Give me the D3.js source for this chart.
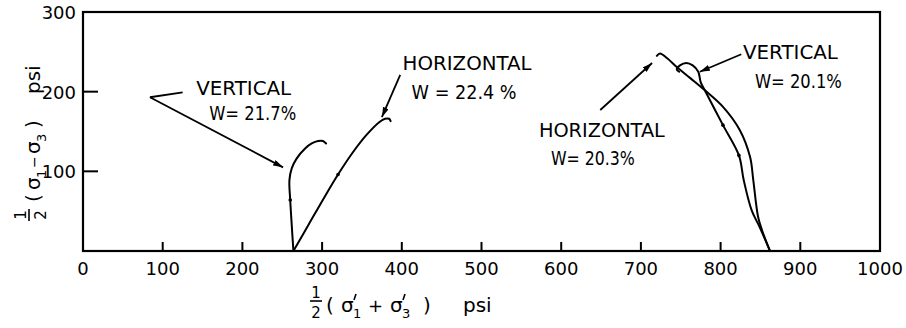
<!DOCTYPE html>
<html>
<head>
<meta charset="utf-8">
<script src="https://cdn.jsdelivr.net/npm/d3@7/dist/d3.min.js"></script>
<style>
  body { margin: 0; background: #fff; }
  text { font-family: "DejaVu Sans", "Liberation Sans", sans-serif; fill: #000; }
</style>
</head>
<body>
<svg id="chart" width="906" height="328"></svg>
<script>
// Axis ticks
const xTickValues = [0, 100, 200, 300, 400, 500, 600, 700, 800, 900, 1000];
const xTickLabels = ["0", "100", "200", "300", "400", "500", "600", "700", "800", "900", "1000"];
const yTickValues = [100, 200, 300];
const yTickLabels = ["100", "200", "300"];

// Stress paths: p = ½(σ'1+σ'3), q = ½(σ1−σ3), psi
const vertical217P   = [264, 262, 260, 259, 262, 268, 279, 287, 295, 301, 305];
const vertical217Q   = [0, 31, 64, 89, 104, 116, 129, 135, 138, 138, 135];
const horizontal224P = [264, 283, 302, 320, 338, 356, 372, 379, 384, 386];
const horizontal224Q = [0, 33, 66, 96, 123, 146, 162, 166, 166, 163];
const vertical201P   = [862, 849, 839, 829, 823, 803, 780, 775, 772, 765, 757, 749, 745, 748];
const vertical201Q   = [0, 30, 51, 89, 120, 158, 202, 212, 225, 233, 236, 233, 228, 225];
const horizontal203P = [862, 852, 847, 841, 837, 824, 803, 780, 762, 745, 733, 724, 720];
const horizontal203Q = [0, 26, 43, 89, 118, 152, 181, 202, 217, 231, 242, 248, 245];

// Plotted readings sitting on the paths
const readingP = [260, 320, 803, 823];
const readingQ = [64, 96, 158, 120];

// Annotation texts
const noteLines = [
  ["VERTICAL", "W= 21.7%"],
  ["HORIZONTAL", "W = 22.4 %"],
  ["HORIZONTAL", "W= 20.3%"],
  ["VERTICAL", "W= 20.1%"]
];

const svg = d3.select("#chart");
const x = d3.scaleLinear().domain([0, 1000]).range([83, 880]);
const y = d3.scaleLinear().domain([0, 300]).range([251, 12]);

// Arrowhead
svg.append("defs").append("marker")
  .attr("id", "head")
  .attr("viewBox", "0 0 10 6")
  .attr("refX", 10).attr("refY", 3)
  .attr("markerWidth", 10).attr("markerHeight", 6)
  .attr("markerUnits", "userSpaceOnUse")
  .attr("orient", "auto")
  .append("path").attr("d", "M0,0 L10,3 L0,6 Z").attr("fill", "#000");

// Frame
svg.append("rect")
  .attr("x", x(0)).attr("y", y(300))
  .attr("width", x(1000) - x(0)).attr("height", y(0) - y(300))
  .attr("fill", "none").attr("stroke", "#000").attr("stroke-width", 2.2);

// Inward ticks
svg.append("g").selectAll("line")
  .data(xTickValues.filter(v => v > 0 && v < 1000))
  .join("line")
  .attr("x1", d => x(d)).attr("x2", d => x(d))
  .attr("y1", y(0)).attr("y2", y(0) - 9)
  .attr("stroke", "#000").attr("stroke-width", 2);

svg.append("g").selectAll("line")
  .data(yTickValues.filter(v => v < 300))
  .join("line")
  .attr("x1", x(0)).attr("x2", x(0) + 15)
  .attr("y1", d => y(d)).attr("y2", d => y(d))
  .attr("stroke", "#000").attr("stroke-width", 2);

// Tick labels
svg.append("g").selectAll("text")
  .data(xTickValues)
  .join("text")
  .attr("x", d => x(d)).attr("y", 275)
  .attr("text-anchor", "middle")
  .attr("font-size", 18)
  .text((d, i) => xTickLabels[i]);

svg.append("g").selectAll("text")
  .data(yTickValues)
  .join("text")
  .attr("x", 76).attr("y", d => y(d) + 7)
  .attr("text-anchor", "end")
  .attr("font-size", 18)
  .text((d, i) => yTickLabels[i]);

// Paths
const line = d3.line().x(d => x(d[0])).y(d => y(d[1])).curve(d3.curveCatmullRom.alpha(0.5));
const series = [
  [vertical217P, vertical217Q],
  [horizontal224P, horizontal224Q],
  [vertical201P, vertical201Q],
  [horizontal203P, horizontal203Q]
];
svg.append("g").selectAll("path")
  .data(series.map(([p, q]) => p.map((v, i) => [v, q[i]])))
  .join("path")
  .attr("d", line)
  .attr("fill", "none")
  .attr("stroke", "#000")
  .attr("stroke-width", 2)
  .attr("stroke-linejoin", "round")
  .attr("stroke-linecap", "round");

svg.append("g").selectAll("circle")
  .data(readingP.map((p, i) => [p, readingQ[i]]))
  .join("circle")
  .attr("cx", d => x(d[0])).attr("cy", d => y(d[1]))
  .attr("r", 1.8).attr("fill", "#000");

// Annotations: text anchor (start, middle of first line) in data units,
// arrow tail and tip in data units
const notes = [
  { at: [142, 205], w: [95, 87], indent: 13, gap: 25,
    tail: [84, 193], tip: [251, 105], stub: [125, 199] },
  { at: [401, 237], w: [129, 105], indent: 9, gap: 29,
    tail: [398, 221], tip: [375, 168] },
  { at: [572, 152], w: [126, 84], indent: 12, gap: 28,
    tail: [649, 177], tip: [714, 236] },
  { at: [828, 250], w: [95, 87], indent: 12, gap: 29,
    tail: [826, 247], tip: [774, 225] }
];

const ann = svg.append("g");
notes.forEach((n, i) => {
  const x0 = x(n.at[0]), y0 = y(n.at[1]);
  noteLines[i].forEach((s, k) => {
    ann.append("text")
      .attr("x", x0 + (k ? n.indent : 0))
      .attr("y", y0 + 7.5 + k * n.gap)
      .attr("font-size", 20)
      .attr("textLength", n.w[k])
      .attr("lengthAdjust", "spacingAndGlyphs")
      .text(s);
  });
  ann.append("line")
    .attr("x1", x(n.tail[0])).attr("y1", y(n.tail[1]))
    .attr("x2", x(n.tip[0])).attr("y2", y(n.tip[1]))
    .attr("stroke", "#000").attr("stroke-width", 1.8)
    .attr("marker-end", "url(#head)");
  if (n.stub) {
    ann.append("line")
      .attr("x1", x(n.tail[0])).attr("y1", y(n.tail[1]))
      .attr("x2", x(n.stub[0])).attr("y2", y(n.stub[1]))
      .attr("stroke", "#000").attr("stroke-width", 1.8);
  }
});

// Axis titles, laid out along a baseline at y = 0 of their own group:
// a stacked ½, then ( σ1 op σ3 ) and the unit
function fraction(g, cx) {
  g.append("text").attr("x", cx).attr("y", -14).attr("text-anchor", "middle")
    .attr("font-size", 15).text("1");
  g.append("line").attr("x1", cx - 6).attr("x2", cx + 6).attr("y1", -11).attr("y2", -11)
    .attr("stroke", "#000").attr("stroke-width", 1.6);
  g.append("text").attr("x", cx).attr("y", 6).attr("text-anchor", "middle")
    .attr("font-size", 15).text("2");
}

function title(g, pos, primed, op) {
  const piece = (px, s, size, dy) => g.append("text")
    .attr("x", px).attr("y", dy || 0).attr("font-size", size).text(s);
  const prime = (px) => g.append("line")
    .attr("x1", px + 2).attr("y1", -18).attr("x2", px).attr("y2", -12)
    .attr("stroke", "#000").attr("stroke-width", 1.6);
  fraction(g, pos.frac);
  piece(pos.open, "(", 20);
  piece(pos.s1, "σ", 20);
  if (primed) prime(pos.s1 + 13);
  piece(pos.s1 + 12, "1", 13, 6);
  piece(pos.op, op, primed ? 18 : 14, primed ? 0 : -1);
  piece(pos.s3, "σ", 20);
  if (primed) prime(pos.s3 + 13);
  piece(pos.s3 + 12, "3", 13, 6);
  piece(pos.close, ")", 20);
  piece(pos.unit, "psi", 20);
}

const xt = svg.append("g").attr("transform", "translate(0,312)");
title(xt, { frac: 316, open: 326, s1: 341, op: 368, s3: 390, close: 423, unit: 463 }, true, "+");

const yt = svg.append("g").attr("transform", "translate(40,150) rotate(-90)");
title(yt, { frac: -65, open: -52, s1: -40, op: -18, s3: -4, close: 22, unit: 56 }, false, "−");
</script>
</body>
</html>
